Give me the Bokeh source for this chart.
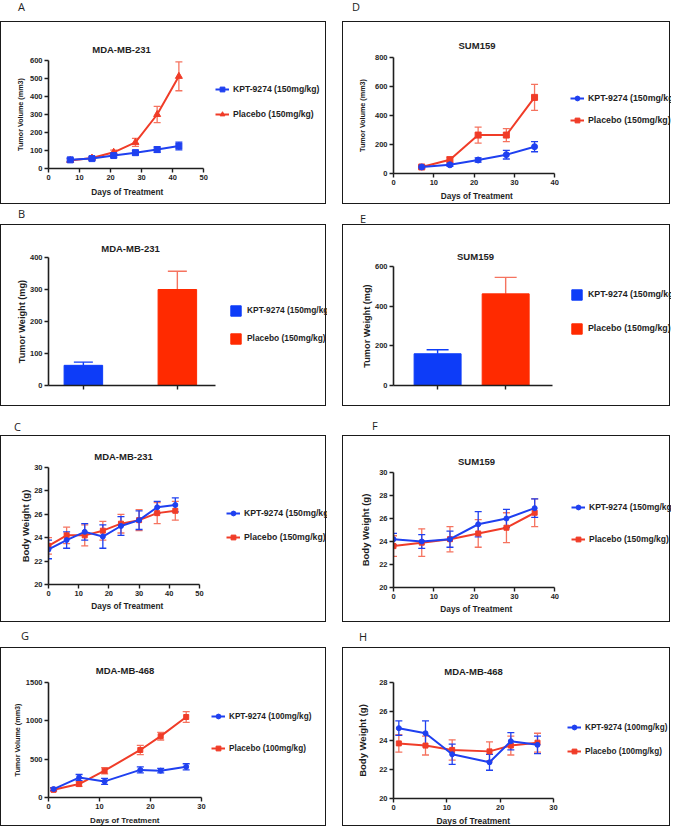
from bokeh.plotting import figure
from bokeh.models import (ColumnDataSource, Whisker, TeeHead, Legend, LegendItem,
                          Div, Range1d, Title)
from bokeh.layouts import column, row
from bokeh.embed import file_html
from bokeh.resources import INLINE

# ---------------- data ----------------
a_days = [7, 14, 21, 28, 35, 42]
a_kpt = [48, 55, 72, 88, 105, 125]
a_kpt_err = [8, 8, 10, 12, 15, 22]
a_pla = [45, 58, 90, 145, 300, 512]
a_pla_err = [8, 8, 12, 22, 45, 80]

d_days = [7, 14, 21, 28, 35]
d_kpt = [45, 60, 93, 130, 185]
d_kpt_err = [8, 10, 15, 30, 35]
d_pla = [45, 95, 265, 265, 525]
d_pla_err = [8, 20, 55, 45, 90]

b_groups = ["KPT-9274 (150mg/kg)", "Placebo (150mg/kg)"]
b_weight = [63, 300]
b_err = [10, 57]

e_groups = ["KPT-9274 (150mg/kg)", "Placebo (150mg/kg)"]
e_weight = [160, 462]
e_err = [20, 83]

c_days = [0, 6, 12, 18, 24, 30, 36, 42]
c_kpt = [23.0, 23.8, 24.5, 24.1, 25.0, 25.5, 26.6, 26.8]
c_kpt_err = [0.8, 0.7, 0.7, 1.0, 0.8, 0.8, 0.5, 0.6]
c_pla = [23.3, 24.2, 24.2, 24.6, 25.2, 25.5, 26.1, 26.3]
c_pla_err = [0.7, 0.7, 0.9, 0.8, 0.8, 0.9, 0.9, 0.8]

f_days = [0, 7, 14, 21, 28, 35]
f_kpt = [24.2, 24.0, 24.2, 25.5, 26.0, 26.9]
f_kpt_err = [0.5, 0.6, 0.7, 1.1, 0.8, 0.8]
f_pla = [23.6, 23.9, 24.2, 24.7, 25.2, 26.5]
f_pla_err = [0.9, 1.2, 1.1, 1.2, 1.3, 1.2]

g_days = [1, 6, 11, 18, 22, 27]
g_kpt = [110, 260, 210, 360, 350, 400]
g_kpt_err = [20, 40, 40, 40, 30, 40]
g_pla = [100, 175, 350, 620, 800, 1050]
g_pla_err = [15, 30, 40, 60, 50, 70]

h_days = [1, 6, 11, 18, 22, 27]
h_kpt = [24.85, 24.5, 23.05, 22.5, 23.95, 23.7]
h_kpt_err = [0.5, 0.85, 0.7, 0.55, 0.6, 0.6]
h_pla = [23.8, 23.65, 23.35, 23.25, 23.65, 23.85]
h_pla_err = [0.6, 0.65, 0.7, 0.65, 0.65, 0.65]

kpt150 = "KPT-9274 (150mg/kg)"
pla150 = "Placebo (150mg/kg)"
kpt100 = "KPT-9274 (100mg/kg)"
pla100 = "Placebo (100mg/kg)"
x_title = "Days of Treatment"

# ---------------- style ----------------
FONT = "Liberation Sans"
INK = "#1e1e1e"
BLUE = "#1f40f0"
RED = "#f03c28"
BAR_BLUE = "#0d3cf8"
BAR_RED = "#ff2a00"
ERR_RED = "#f5735f"
TITLE_PX = 9.5
# approximate advance widths (em) of Liberation Sans Bold, for centring texts
EM = {"M": .833, "D": .722, "A": .722, "B": .722, "S": .667, "U": .722, "-": .333,
      "T": .611, "a": .556, "y": .556, "s": .556, "o": .611, "f": .333, "r": .389,
      "e": .556, "t": .333, "m": .889, "n": .611, " ": .278}


def text_w(s, px):
    return sum(EM.get(c, .556) for c in s) * px


def base_fig(W, H, fl, fw, ft, fh, xr, yr, xticks, yticks, title, tc, ts,
             ylabel, ylabel_size, yst, xlabel=False, xls=8.3, xst=2):
    full = W - fl
    x_end = xr[0] + (xr[1] - xr[0]) * full / fw
    p = figure(width=W, height=H, sizing_mode="fixed",
               min_border_left=fl, min_border_right=0,
               min_border_top=ft, min_border_bottom=H - ft - fh,
               x_range=Range1d(xr[0], x_end), y_range=Range1d(*yr),
               output_backend="svg", toolbar_location=None,
               styles={"border": "1.5px solid #1a1a1a"})
    p.xgrid.visible = False
    p.ygrid.visible = False
    p.outline_line_color = None
    p.background_fill_color = "white"
    p.border_fill_color = "white"
    p.title.text = title
    p.title.align = "left"
    p.title.offset = tc - text_w(title, TITLE_PX) / 2
    p.title.text_font = FONT
    p.title.text_font_style = "bold"
    p.title.text_font_size = f"{TITLE_PX}px"
    p.title.text_color = INK
    p.title.standoff = ts
    for ax in (p.xaxis, p.yaxis):
        ax.axis_line_width = 1.6
        ax.axis_line_color = INK
        ax.major_tick_line_width = 1.4
        ax.major_tick_line_color = INK
        ax.major_tick_in = 0
        ax.major_tick_out = 4
        ax.minor_tick_line_color = None
        ax.major_label_text_font = FONT
        ax.major_label_text_font_style = "bold"
        ax.major_label_text_font_size = "7.5px"
        ax.major_label_text_color = INK
        ax.major_label_standoff = 2
        ax.axis_label_text_font = FONT
        ax.axis_label_text_font_style = "bold"
        ax.axis_label_text_color = INK
    p.xaxis.bounds = xr
    p.xaxis.ticker = xticks
    p.yaxis.ticker = yticks
    p.yaxis.axis_label = ylabel
    p.yaxis.axis_label_text_font_size = f"{ylabel_size}px"
    p.yaxis.axis_label_standoff = int(yst)
    if xlabel:
        xt = Title(text=x_title, align="left",
                   offset=fw / 2 - text_w(x_title, xls) / 2, standoff=int(xst),
                   text_font=FONT, text_font_style="bold",
                   text_font_size=f"{xls}px", text_color=INK)
        p.add_layout(xt, "below")
    return p


def place_legend(p, items, fw, fh, gx, first_c, step, gh, gw, standoff, fsize):
    n = len(items)
    spacing = step - gh
    top = first_c - gh / 2
    height = n * gh + (n - 1) * spacing
    bottom = fh - (top + height)
    leg = Legend(items=items, location=(fw + gx, bottom),
                 padding=0, margin=0, spacing=spacing,
                 glyph_height=gh, glyph_width=gw, label_height=gh,
                 label_standoff=standoff,
                 border_line_color=None, background_fill_alpha=0,
                 label_text_font=FONT, label_text_font_style="bold",
                 label_text_font_size=f"{fsize}px", label_text_color=INK)
    p.add_layout(leg)


def add_series(p, days, vals, errs, color, err_color, marker, msize, cap):
    src = ColumnDataSource(dict(x=days, y=vals,
                                lo=[v - e for v, e in zip(vals, errs)],
                                hi=[v + e for v, e in zip(vals, errs)]))
    w = Whisker(source=src, base="x", lower="lo", upper="hi",
                line_color=err_color, line_width=1.3,
                lower_head=TeeHead(size=cap, line_color=err_color, line_width=1.3),
                upper_head=TeeHead(size=cap, line_color=err_color, line_width=1.3))
    p.add_layout(w)
    ln = p.line("x", "y", source=src, line_color=color, line_width=2)
    mk = p.scatter("x", "y", source=src, marker=marker, size=msize,
                   fill_color=color, line_color=color)
    return [ln, mk]


def line_panel(spec):
    p = base_fig(spec["W"], spec["H"], spec["fl"], spec["fw"], spec["ft"], spec["fh"],
                 spec["xr"], spec["yr"], spec["xticks"], spec["yticks"],
                 spec["title"], spec["fw"] / 2 + spec.get("tdx", 0), spec["ts"],
                 spec["ylabel"], spec["yls"], spec["yst"],
                 True, spec.get("xls", 8.3), spec["xst"])
    r_red = add_series(p, spec["days"], spec["pla"], spec["pla_err"], RED, ERR_RED,
                       spec["rmark"], spec["rsize"], 7)
    r_blue = add_series(p, spec["days"], spec["kpt"], spec["kpt_err"], BLUE, BLUE,
                        spec["bmark"], spec["bsize"], 7)
    items = [LegendItem(label=spec["labels"][0], renderers=r_blue),
             LegendItem(label=spec["labels"][1], renderers=r_red)]
    place_legend(p, items, spec["fw"], spec["fh"], spec["gx"], spec["first"],
                 spec["step"], 12, 14, 4, spec["lfs"])
    return p


def bar_panel(spec):
    p = base_fig(spec["W"], spec["H"], spec["fl"], spec["fw"], spec["ft"], spec["fh"],
                 spec["xr"], spec["yr"], [1, 2], spec["yticks"],
                 spec["title"], spec["fw"] / 2 + spec.get("tdx", 0), spec["ts"],
                 "Tumor Weight (mg)", 9.2, spec["yst"])
    p.xaxis.major_label_overrides = {1: "", 2: ""}
    pos = list(range(1, len(spec["groups"]) + 1))
    src = ColumnDataSource(dict(x=pos, top=spec["vals"],
                                hi=[v + e for v, e in zip(spec["vals"], spec["errs"])],
                                color=[BAR_BLUE, BAR_RED],
                                ecolor=[BAR_BLUE, ERR_RED],
                                label=spec["groups"]))
    w = Whisker(source=src, base="x", lower="top", upper="hi",
                line_color="ecolor", line_width=1.4, lower_head=None,
                upper_head=TeeHead(size=spec["cap"], line_color="ecolor", line_width=1.4))
    p.add_layout(w)
    r = p.vbar(x="x", top="top", width=spec["bw"], source=src,
               fill_color="color", line_color="color")
    items = [LegendItem(label=g, renderers=[r], index=i)
             for i, g in enumerate(spec["groups"])]
    place_legend(p, items, spec["fw"], spec["fh"], spec["gx"], spec["first"],
                 spec["step"], 13, 13, 5, spec["lfs"])
    return p


pA = line_panel(dict(W=326, H=183, fl=42, fw=158, ft=38, fh=108,
                     xr=(0, 50), yr=(0, 600), xticks=[0, 10, 20, 30, 40, 50],
                     yticks=[0, 100, 200, 300, 400, 500, 600],
                     title="MDA-MB-231", tdx=-6, ts=12, ylabel="Tumor Volume (mm3)",
                     yls=7.2, yst=2, xst=4,
                     days=a_days, kpt=a_kpt, kpt_err=a_kpt_err, pla=a_pla, pla_err=a_pla_err,
                     bmark="square", bsize=6, rmark="triangle", rsize=7,
                     labels=[kpt150, pla150], gx=9, first=29, step=25, lfs=8.6))

pD = line_panel(dict(W=328, H=183, fl=40, fw=167, ft=35, fh=116,
                     xr=(0, 40), yr=(0, 800), xticks=[0, 10, 20, 30, 40],
                     yticks=[0, 200, 400, 600, 800],
                     title="SUM159", ts=13, ylabel="Tumor Volume (mm3)",
                     yls=7.2, yst=5, xst=3,
                     days=d_days, kpt=d_kpt, kpt_err=d_kpt_err, pla=d_pla, pla_err=d_pla_err,
                     bmark="circle", bsize=6, rmark="square", rsize=6,
                     labels=[kpt150, pla150], gx=10, first=41, step=22, lfs=8.8))

pB = bar_panel(dict(W=326, H=182, fl=38, fw=172, ft=32, fh=128,
                    xr=(0.629, 2.402), yr=(0, 400), yticks=[0, 100, 200, 300, 400],
                    title="MDA-MB-231", tdx=-4, ts=8, yst=0,
                    groups=b_groups, vals=b_weight, errs=b_err,
                    bw=0.41, cap=19, gx=9, first=53, step=28, lfs=8.4))

pE = bar_panel(dict(W=328, H=182, fl=38, fw=166, ft=41, fh=119,
                    xr=(0.352, 2.69), yr=(0, 600), yticks=[0, 200, 400, 600],
                    title="SUM159", tdx=-1, ts=10, yst=0,
                    groups=e_groups, vals=e_weight, errs=e_err,
                    bw=0.69, cap=22, gx=11, first=28, step=34, lfs=8.8))

pC = line_panel(dict(W=326, H=187, fl=34, fw=158, ft=31, fh=117,
                     xr=(0, 50), yr=(20, 30), xticks=[0, 10, 20, 30, 40, 50],
                     yticks=[20, 22, 24, 26, 28, 30],
                     title="MDA-MB-231", tdx=-4, ts=12, ylabel="Body Weight (g)",
                     yls=9.5, yst=0, xst=0,
                     days=c_days, kpt=c_kpt, kpt_err=c_kpt_err, pla=c_pla, pla_err=c_pla_err,
                     bmark="circle", bsize=5, rmark="square", rsize=5,
                     labels=[kpt150, pla150], gx=20, first=46, step=24, lfs=8.7))

pF = line_panel(dict(W=328, H=187, fl=42, fw=166, ft=36, fh=115,
                     xr=(0, 40), yr=(20, 30), xticks=[0, 10, 20, 30, 40],
                     yticks=[20, 22, 24, 26, 28, 30],
                     title="SUM159", ts=12, ylabel="Body Weight (g)",
                     yls=9.5, yst=5, xst=0,
                     days=f_days, kpt=f_kpt, kpt_err=f_kpt_err, pla=f_pla, pla_err=f_pla_err,
                     bmark="circle", bsize=5, rmark="square", rsize=5,
                     labels=[kpt150, pla150], gx=12, first=35, step=32, lfs=8.5))

pG = line_panel(dict(W=326, H=179, fl=47, fw=153, ft=34, fh=115,
                     xr=(0, 30), yr=(0, 1500), xticks=[0, 10, 20, 30],
                     yticks=[0, 500, 1000, 1500],
                     title="MDA-MB-468", ts=13, ylabel="Tumor Volume (mm3)",
                     yls=7.2, yst=1, xst=4,
                     days=g_days, kpt=g_kpt, kpt_err=g_kpt_err, pla=g_pla, pla_err=g_pla_err,
                     bmark="circle", bsize=5, rmark="square", rsize=5,
                     labels=[kpt100, pla100], gx=10, first=34, step=32, lfs=8.2, xls=8.0))

pH = line_panel(dict(W=328, H=179, fl=50, fw=160, ft=34, fh=116,
                     xr=(0, 30), yr=(20, 28), xticks=[0, 10, 20, 30],
                     yticks=[20, 22, 24, 26, 28],
                     title="MDA-MB-468", ts=11, ylabel="Body Weight (g)",
                     yls=9.5, yst=8, xst=3,
                     days=h_days, kpt=h_kpt, kpt_err=h_kpt_err, pla=h_pla, pla_err=h_pla_err,
                     bmark="circle", bsize=5, rmark="square", rsize=5,
                     labels=[kpt100, pla100], gx=14, first=45, step=24, lfs=8.2, xls=8.5))


def tag(letter, w, h, left, top):
    return Div(text=letter, width=w, height=h, margin=(0, 0, 0, 0),
               styles={"font-family": "Open Sans", "font-size": "11px",
                       "color": "#222", "text-indent": f"{left}px",
                       "box-sizing": "border-box", "height": f"{h}px",
                       "padding-top": f"{top}px", "line-height": "13px"})


left = column(tag("A", 326, 21, 18, 0), pA,
              tag("B", 326, 20, 18, 3),
              pB,
              tag("C", 326, 29, 14, 14), pC,
              tag("G", 326, 25, 21, 7), pG, spacing=0)
right = column(tag("D", 328, 21, 10, 0), pD,
               tag("E", 328, 20, 18, 8),
               pE,
               tag("F", 328, 29, 30, 13), pF,
               tag("H", 328, 25, 17, 8), pH, spacing=0)
layout = row(left, right, spacing=16)

open("out.html", "w").write(file_html(layout, INLINE))
